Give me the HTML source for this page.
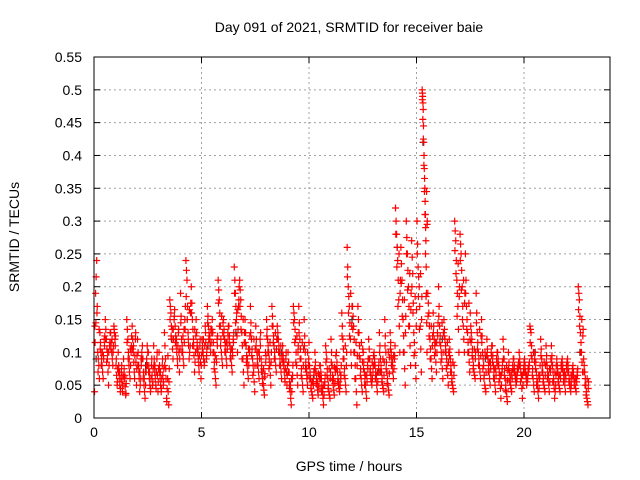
<!DOCTYPE html>
<html><head><meta charset="utf-8"><style>
body{margin:0;background:#fff}
svg{display:block;font-family:"Liberation Sans",sans-serif}
</style></head><body>
<svg id="chart" width="640" height="480" viewBox="0 0 640 480">
<text x="349" y="32" text-anchor="middle" font-size="14">Day 091 of 2021, SRMTID for receiver baie</text>
<g id="grid"></g>
<g id="yticks"></g>
<g id="xticks"></g>
<g id="points"></g>
<rect x="94" y="57" width="516" height="361" fill="none" stroke="#000" stroke-width="1"/>
<text transform="translate(19,237) rotate(-90)" text-anchor="middle" font-size="14">SRMTID / TECUs</text>
<text x="349" y="471" text-anchor="middle" font-size="14">GPS time / hours</text>
</svg>
<script>
const xTicks=[0,5,10,15,20];
const yTicks=[0,0.05,0.1,0.15,0.2,0.25,0.3,0.35,0.4,0.45,0.5,0.55];
const yTickLabels=["0","0.05","0.1","0.15","0.2","0.25","0.3","0.35","0.4","0.45","0.5","0.55"];
const binWidth=0.25;
const binValues=[
[0.04,0.19,0.24,0.1,0.08],[0.13,0.1,0.08,0.06,0.12],[0.15,0.12,0.09,0.05,0.11],[0.13,0.1,0.08,0.14,0.12],
[0.08,0.05,0.1,0.06,0.04],[0.07,0.04,0.09,0.06,0.035],[0.15,0.12,0.08,0.06,0.1],[0.14,0.1,0.07,0.12,0.05],
[0.12,0.08,0.04,0.06,0.1],[0.09,0.05,0.03,0.07,0.11],[0.1,0.06,0.04,0.08,0.05],[0.11,0.07,0.05,0.09,0.04],
[0.1,0.06,0.04,0.08,0.05],[0.13,0.09,0.03,0.06,0.02],[0.18,0.16,0.12,0.09,0.15],[0.14,0.11,0.09,0.13,0.07],
[0.19,0.12,0.1,0.08,0.15],[0.24,0.21,0.13,0.09,0.11],[0.2,0.15,0.12,0.07,0.1],[0.13,0.1,0.08,0.11,0.06],
[0.12,0.1,0.08,0.14,0.09],[0.17,0.14,0.12,0.1,0.13],[0.13,0.1,0.07,0.05,0.12],[0.21,0.18,0.14,0.1,0.08],
[0.15,0.12,0.1,0.08,0.13],[0.14,0.11,0.09,0.07,0.12],[0.23,0.19,0.15,0.1,0.17],[0.21,0.18,0.13,0.09,0.05],
[0.15,0.11,0.08,0.06,0.1],[0.17,0.12,0.09,0.07,0.04],[0.14,0.1,0.08,0.06,0.12],[0.09,0.07,0.05,0.035,0.1],
[0.15,0.12,0.1,0.08,0.05],[0.17,0.14,0.11,0.09,0.07],[0.14,0.12,0.1,0.08,0.06],[0.11,0.08,0.06,0.09,0.05],
[0.1,0.07,0.04,0.02,0.06],[0.17,0.15,0.12,0.08,0.05],[0.17,0.12,0.09,0.06,0.04],[0.15,0.1,0.07,0.05,0.08],
[0.08,0.06,0.04,0.03,0.07],[0.1,0.07,0.05,0.035,0.06],[0.08,0.06,0.04,0.02,0.05],[0.11,0.09,0.06,0.04,0.03],
[0.12,0.08,0.05,0.035,0.07],[0.1,0.07,0.05,0.04,0.06],[0.16,0.12,0.09,0.06,0.04],[0.26,0.2,0.17,0.12,0.08],
[0.17,0.14,0.1,0.06,0.02],[0.17,0.13,0.09,0.06,0.04],[0.1,0.07,0.05,0.03,0.08],[0.12,0.09,0.06,0.05,0.07],
[0.1,0.08,0.06,0.04,0.07],[0.13,0.09,0.07,0.05,0.04],[0.15,0.1,0.07,0.05,0.035],[0.13,0.1,0.08,0.06,0.09],
[0.32,0.28,0.24,0.18,0.1],[0.26,0.21,0.15,0.1,0.05],[0.3,0.25,0.2,0.14,0.08],[0.27,0.22,0.13,0.1,0.06],
[0.3,0.23,0.2,0.14,0.07],[0.5,0.49,0.47,0.42,0.38,0.35,0.31,0.27,0.19,0.1],[0.19,0.16,0.12,0.09,0.06],[0.16,0.12,0.1,0.07,0.13],
[0.2,0.14,0.11,0.09,0.06],[0.15,0.12,0.1,0.08,0.05],[0.12,0.09,0.07,0.05,0.04],[0.3,0.27,0.21,0.17,0.1],
[0.28,0.25,0.2,0.14,0.1],[0.25,0.17,0.13,0.1,0.07],[0.14,0.12,0.09,0.07,0.06],[0.19,0.13,0.1,0.08,0.06],
[0.15,0.1,0.08,0.05,0.04],[0.12,0.09,0.07,0.05,0.1],[0.11,0.08,0.06,0.04,0.09],[0.1,0.08,0.06,0.03,0.07],
[0.12,0.09,0.06,0.04,0.025],[0.1,0.07,0.05,0.04,0.08],[0.09,0.07,0.05,0.06,0.08],[0.1,0.08,0.06,0.03,0.07],
[0.09,0.07,0.05,0.06,0.08],[0.14,0.13,0.09,0.06,0.04],[0.1,0.07,0.05,0.03,0.06],[0.12,0.09,0.07,0.05,0.04],
[0.11,0.08,0.06,0.04,0.07],[0.11,0.08,0.06,0.03,0.05],[0.09,0.07,0.05,0.04,0.08],[0.09,0.07,0.06,0.04,0.08],
[0.09,0.07,0.05,0.04,0.06],[0.08,0.06,0.05,0.04,0.07],[0.2,0.18,0.13,0.1,0.07],[0.09,0.07,0.05,0.03,0.02]
];
const blackTimes=[0.1,2.4,3.6,5.3,6.6,8.7,10.2,12.0,13.3,14.1,15.3,16.2,18.2,20.5,22.6];
const blackValues=[0.09,0.08,0.12,0.11,0.13,0.1,0.06,0.15,0.07,0.26,0.42,0.12,0.09,0.1,0.1];

const NS="http://www.w3.org/2000/svg";
const L=94,R=610,T=57,B=418,XMAX=24,YMAX=0.55;
function xs(v){return L+(R-L)*v/XMAX;}
function ys(v){return B-(B-T)*v/YMAX;}
function mk(tag,attrs,parent){const e=document.createElementNS(NS,tag);for(const k in attrs)e.setAttribute(k,attrs[k]);parent.appendChild(e);return e;}
const grid=document.getElementById('grid'),yt=document.getElementById('yticks'),xt=document.getElementById('xticks'),pts=document.getElementById('points');
yTicks.forEach((v,i)=>{
  const y=ys(v);
  if(i>0&&i<yTicks.length-1){const g=mk('line',{x1:L,x2:R,y1:y,y2:y,stroke:'#a0a0a0','stroke-dasharray':'2,3'},grid);
  
  }
  mk('line',{x1:L,x2:L+6,y1:y,y2:y,stroke:'#000'},yt);
  mk('line',{x1:R-6,x2:R,y1:y,y2:y,stroke:'#000'},yt);
  const t=mk('text',{x:L-12,y:y+5,'text-anchor':'end','font-size':'14'},yt);
  t.textContent=yTickLabels[i];
  
  
});
xTicks.forEach(v=>{
  const x=xs(v);
  if(v>0){const g=mk('line',{x1:x,x2:x,y1:T,y2:B,stroke:'#a0a0a0','stroke-dasharray':'2,3'},grid);
  
  }
  mk('line',{x1:x,x2:x,y1:B,y2:B-6,stroke:'#000'},xt);
  mk('line',{x1:x,x2:x,y1:T,y2:T+6,stroke:'#000'},xt);
  const t=mk('text',{x:x,y:B+19,'text-anchor':'middle','font-size':'14'},xt);
  t.textContent=String(v);
  
  
});
function cross(t,v,color){
  const x=xs(t),y=ys(v);
  const p=mk('path',{d:`M${x-3.5},${y}H${x+3.5}M${x},${y-3.5}V${y+3.5}`,stroke:color,'stroke-width':'1.2',fill:'none'},pts);
  
  
}
blackTimes.forEach((t,i)=>cross(t,blackValues[i],'#333'));
binValues.forEach((vals,b)=>{
  const n=vals.length;
  vals.forEach((v,j)=>{
    const t=b*binWidth+binWidth*(j+0.5)/n;
    const w=vals[(j+1)%n], u=vals[(j+2)%n];
    cross(t,v,'#ff0000');
    cross(t+binWidth*0.5/n,(v+w)/2,'#ff0000');
    cross(t+binWidth*0.25/n,(v+u)/2,'#ff0000');
  });
});
</script>
</body></html>
